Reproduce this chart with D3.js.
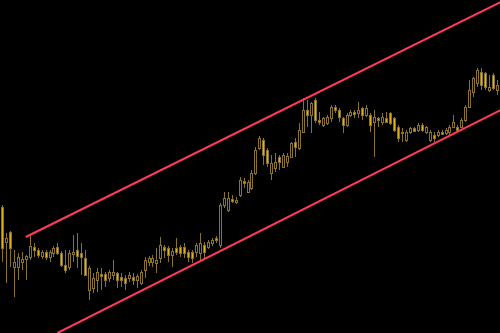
<!DOCTYPE html>
<html>
<head>
<meta charset="utf-8">
<script src="https://cdn.jsdelivr.net/npm/d3@7"></script>
<style>
  html, body { margin: 0; padding: 0; background: #000; overflow: hidden; }
</style>
</head>
<body>
<div id="chart"></div>
<script>
// Step 1: Data (price units)
//= ================================
var opens = [126, 91, 101, 66, 66, 71, 74, 76, 86, 83, 77, 81, 76, 80, 86, 80, 68, 66, 79, 83,
  80, 75, 43, 45, 53, 59, 59, 55, 58, 60, 56, 55, 55, 56, 53, 50, 63, 71, 71, 70,
  75, 86, 85, 78, 85, 86, 86, 81, 81, 81, 80, 88, 86, 90, 95, 88, 128, 123, 134, 131,
  138, 152, 141, 145, 160, 185, 193, 183, 160, 165, 176, 166, 171, 176, 191, 185, 201, 223, 218, 233,
  213, 208, 210, 215, 226, 223, 215, 208, 218, 221, 220, 225, 218, 218, 211, 215, 211, 215, 220, 215,
  206, 201, 193, 201, 205, 203, 208, 201, 193, 198, 198, 201, 200, 201, 206, 206, 206, 213, 226, 241,
  250, 261, 260, 243, 258, 243];
var highs = [128, 100, 102, 83, 80, 81, 78, 97, 90, 85, 83, 83, 83, 87, 90, 82, 83, 83, 98, 100,
  90, 83, 67, 60, 65, 65, 61, 63, 73, 61, 60, 58, 61, 60, 59, 63, 76, 77, 78, 85,
  96, 88, 87, 85, 95, 88, 90, 83, 83, 90, 100, 91, 93, 95, 97, 130, 141, 141, 138, 136,
  156, 155, 153, 163, 186, 197, 195, 185, 178, 180, 178, 180, 180, 191, 195, 210, 235, 233, 231, 235,
  221, 216, 218, 228, 228, 225, 216, 220, 223, 223, 231, 226, 228, 220, 223, 216, 220, 221, 221, 216,
  208, 205, 203, 206, 206, 210, 210, 207, 203, 201, 203, 203, 205, 208, 218, 208, 215, 228, 253, 256,
  265, 265, 261, 258, 260, 253];
var lows = [71, 50, 66, 36, 53, 63, 53, 73, 76, 75, 74, 73, 71, 76, 78, 66, 60, 63, 71, 65,
  58, 57, 33, 40, 41, 43, 46, 51, 53, 45, 46, 43, 51, 48, 45, 48, 55, 67, 66, 60,
  70, 75, 71, 66, 78, 76, 75, 71, 70, 76, 73, 75, 84, 87, 90, 85, 125, 121, 130, 129,
  136, 145, 140, 143, 158, 183, 168, 166, 153, 161, 163, 165, 166, 175, 176, 183, 200, 206, 200, 210,
  208, 206, 208, 211, 220, 211, 200, 206, 216, 215, 215, 213, 216, 201, 176, 206, 208, 210, 208, 201,
  191, 191, 191, 199, 201, 201, 201, 199, 191, 191, 196, 198, 198, 198, 205, 201, 205, 211, 225, 236,
  246, 243, 243, 241, 243, 238];
var closes = [85, 95, 85, 71, 76, 74, 77, 87, 83, 78, 81, 76, 81, 85, 80, 68, 63, 80, 81, 77,
  76, 58, 65, 55, 61, 57, 53, 61, 61, 53, 53, 50, 58, 53, 57, 61, 73, 75, 75, 73,
  88, 83, 78, 82, 81, 80, 80, 76, 75, 88, 90, 81, 91, 93, 93, 128, 135, 135, 132, 133,
  153, 150, 151, 160, 183, 195, 178, 170, 170, 171, 171, 178, 177, 190, 186, 203, 223, 218, 230, 213,
  211, 215, 216, 226, 223, 216, 208, 218, 221, 219, 223, 218, 225, 208, 216, 213, 216, 211, 210, 203,
  195, 200, 201, 205, 202, 208, 203, 206, 201, 195, 201, 199, 203, 206, 211, 203, 213, 226, 243, 255,
  263, 248, 246, 246, 245, 248];

// trend channel lines: [candle index, price] anchors
var upperLine = [[6, 96], [126, 331]];
var lowerLine = [[14, 0], [126, 223]];

// Step 2: Chart setup
//= ================================
var svgWidth = 500;
var svgHeight = 333;

var candleColor = "#8a7226";
var bearFill = "#e2b01c";
var lineColor = "#ff3a5a";

var svg = d3.select("#chart")
  .append("svg")
  .attr("width", svgWidth)
  .attr("height", svgHeight)
  .style("display", "block")
  .style("background", "#000");

var candles = opens.map(function (o, i) {
  return { i: i, open: o, high: highs[i], low: lows[i], close: closes[i] };
});

// Step 3: Scales
//= ================================
var xScale = d3.scaleLinear()
  .domain([0, candles.length - 1])
  .range([2, 497]);

var yScale = d3.scaleLinear()
  .domain([0, 333])
  .range([svgHeight, 0]);

function px(i) {
  return Math.round(xScale(i)) + 0.5;
}

// Step 4: Candles
//= ================================
var candleGroup = svg.append("g");

candleGroup.selectAll("line.wick")
  .data(candles)
  .enter()
  .append("line")
  .attr("class", "wick")
  .attr("x1", d => px(d.i))
  .attr("x2", d => px(d.i))
  .attr("y1", d => yScale(d.high))
  .attr("y2", d => yScale(d.low))
  .attr("stroke", candleColor)
  .attr("stroke-width", 1);

candleGroup.selectAll("rect.body")
  .data(candles)
  .enter()
  .append("rect")
  .attr("class", "body")
  .attr("x", d => px(d.i) - 1)
  .attr("width", 2)
  .attr("y", d => Math.round(yScale(Math.max(d.open, d.close))) + 0.5)
  .attr("height", d => Math.max(1, Math.round(Math.abs(yScale(d.open) - yScale(d.close)))))
  .attr("fill", d => d.close >= d.open ? "#000" : bearFill)
  .attr("stroke", candleColor)
  .attr("stroke-width", 1);

// Step 5: Channel lines
//= ================================
var line = d3.line()
  .x(d => xScale(d[0]))
  .y(d => yScale(d[1]));

svg.selectAll("path.trend")
  .data([upperLine, lowerLine])
  .enter()
  .append("path")
  .attr("class", "trend")
  .attr("d", line)
  .attr("fill", "none")
  .attr("stroke", lineColor)
  .attr("stroke-width", 2);
</script>
</body>
</html>
